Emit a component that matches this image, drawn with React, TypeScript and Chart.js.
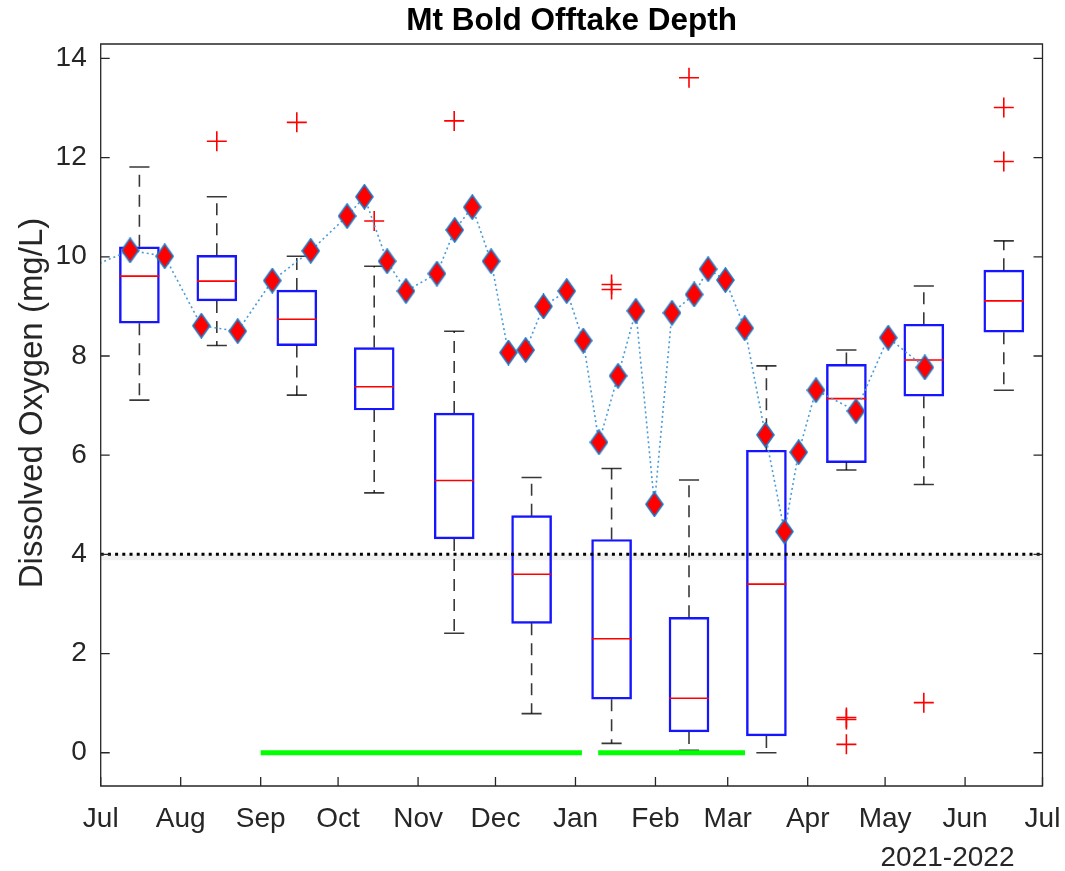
import React, { useEffect, useRef } from 'react';
import { Chart, registerables } from 'chart.js';

Chart.register(...registerables);

// ---- axis ticks ----
const monthTickDays = [0, 31, 62, 92, 123, 153, 184, 215, 243, 274, 304, 335, 365];
const monthLabels = ['Jul', 'Aug', 'Sep', 'Oct', 'Nov', 'Dec', 'Jan', 'Feb', 'Mar', 'Apr', 'May', 'Jun', 'Jul'];
const yTickValues = [0, 2, 4, 6, 8, 10, 12, 14];

// ---- monthly box plots (days since 1 Jul 2021) ----
const boxDays = [15, 45, 76, 106, 137, 167, 198, 228, 258, 289, 319, 350];
const boxQ1 = [8.66, 9.11, 8.21, 6.91, 4.31, 2.61, 1.08, 0.42, 0.34, 5.85, 7.19, 8.48];
const boxMedian = [9.61, 9.51, 8.74, 7.38, 5.49, 3.6, 2.3, 1.1, 3.4, 7.14, 7.92, 9.11];
const boxQ3 = [10.2, 10.03, 9.33, 8.17, 6.85, 4.78, 4.3, 2.73, 6.1, 7.83, 8.64, 9.73];
const whiskerLow = [7.11, 8.21, 7.21, 5.24, 2.41, 0.79, 0.19, 0.05, 0.0, 5.7, 5.41, 7.31];
const whiskerHigh = [11.81, 11.21, 10.01, 9.81, 8.5, 5.55, 5.73, 5.5, 7.8, 8.12, 9.41, 10.32];

// ---- outliers ----
const outlierDays = [45, 76, 106, 137, 198, 198, 228, 289, 289, 289, 319, 350, 350];
const outlierValues = [12.33, 12.71, 10.72, 12.74, 9.44, 9.34, 13.61, 0.71, 0.67, 0.17, 1.01, 13.01, 11.92];

// ---- individual samples (diamonds) ----
const sampleDays = [-4, 11.4, 24.8, 39.0, 53.1, 66.5, 81.4, 95.5, 102.2, 111.0, 118.3, 130.3, 137.2, 144.0, 151.3, 158.0, 164.7, 171.6, 180.6, 187.0, 193.1, 200.5, 207.4, 214.6, 221.4, 230.0, 235.4, 242.1, 249.6, 257.6, 265.0, 270.5, 277.2, 292.7, 305.2, 319.4];
const sampleValues = [9.79, 10.13, 10.01, 8.61, 8.5, 9.52, 10.12, 10.82, 11.21, 9.91, 9.31, 9.66, 10.54, 11.0, 9.91, 8.07, 8.12, 9.0, 9.31, 8.31, 6.26, 7.6, 8.91, 5.01, 8.87, 9.24, 9.75, 9.53, 8.56, 6.41, 4.46, 6.06, 7.31, 6.89, 8.37, 7.77];

// ---- reference lines ----
const thresholdValue = 4;
const greenStartDays = [62, 192.8];
const greenEndDays = [186.5, 249.7];

const X_MIN = 0;
const X_MAX = 365;
const Y_MIN = -0.67;
const Y_MAX = 14.29;

const BOX_HALF_DAYS = 7.7;
const CAP_HALF_DAYS = 3.9;

const FONT = '"Liberation Sans", Arial, Helvetica, sans-serif';
const AXIS_COLOR = '#262626';

function makeDiamond(): HTMLCanvasElement {
  const w = 19;
  const h = 26;
  const c = document.createElement('canvas');
  c.width = w;
  c.height = h;
  const g = c.getContext('2d')!;
  g.beginPath();
  g.moveTo(w / 2, 1);
  g.lineTo(w - 1, h / 2);
  g.lineTo(w / 2, h - 1);
  g.lineTo(1, h / 2);
  g.closePath();
  g.fillStyle = '#ff0000';
  g.fill();
  g.lineWidth = 1.6;
  g.strokeStyle = '#1f78c4';
  g.stroke();
  return c;
}

const framePlugin = {
  id: 'framePlugin',
  afterDraw(chart: any) {
    const { ctx, chartArea: a, scales } = chart;
    const xs = scales.x;
    const ys = scales.y;
    ctx.save();
    ctx.strokeStyle = AXIS_COLOR;
    ctx.lineWidth = 1.3;
    ctx.beginPath();
    ctx.rect(a.left, a.top, a.right - a.left, a.bottom - a.top);
    ctx.stroke();
    ctx.beginPath();
    yTickValues.forEach((v) => {
      const py = ys.getPixelForValue(v);
      ctx.moveTo(a.left, py);
      ctx.lineTo(a.left + 9, py);
      ctx.moveTo(a.right, py);
      ctx.lineTo(a.right - 9, py);
    });
    monthTickDays.forEach((d) => {
      const px = xs.getPixelForValue(d);
      ctx.moveTo(px, a.bottom);
      ctx.lineTo(px, a.bottom - 9);
    });
    ctx.stroke();

    // title
    ctx.fillStyle = '#000';
    ctx.font = `bold 31.5px ${FONT}`;
    ctx.textAlign = 'center';
    ctx.textBaseline = 'alphabetic';
    ctx.fillText('Mt Bold Offtake Depth', (a.left + a.right) / 2, 30);

    // y label
    ctx.fillStyle = AXIS_COLOR;
    ctx.font = `33px ${FONT}`;
    ctx.save();
    ctx.translate(42, (a.top + a.bottom) / 2 - 12);
    ctx.rotate(-Math.PI / 2);
    ctx.fillText('Dissolved Oxygen (mg/L)', 0, 0);
    ctx.restore();

    // year label
    ctx.font = `28px ${FONT}`;
    ctx.fillText('2021-2022', a.right - 95, 866);
    ctx.restore();
  },
};

export default function App() {
  const ref = useRef<HTMLCanvasElement | null>(null);

  useEffect(() => {
    if (!ref.current) return;
    const diamond = makeDiamond();

    const boxData = boxDays.map((d, i) => ({ x: d, y: [boxQ1[i], boxQ3[i]] }));
    const whiskerData: any[] = [];
    const capData: any[] = [];
    const medianData: any[] = [];
    boxDays.forEach((d, i) => {
      whiskerData.push({ x: d, y: boxQ3[i] }, { x: d, y: whiskerHigh[i] }, { x: d, y: null });
      whiskerData.push({ x: d, y: boxQ1[i] }, { x: d, y: whiskerLow[i] }, { x: d, y: null });
      capData.push({ x: d - CAP_HALF_DAYS, y: whiskerHigh[i] }, { x: d + CAP_HALF_DAYS, y: whiskerHigh[i] }, { x: d, y: null });
      capData.push({ x: d - CAP_HALF_DAYS, y: whiskerLow[i] }, { x: d + CAP_HALF_DAYS, y: whiskerLow[i] }, { x: d, y: null });
      medianData.push({ x: d - BOX_HALF_DAYS, y: boxMedian[i] }, { x: d + BOX_HALF_DAYS, y: boxMedian[i] }, { x: d, y: null });
    });
    const outlierData = outlierDays.map((d, i) => ({ x: d, y: outlierValues[i] }));
    const sampleData = sampleDays.map((d, i) => ({ x: d, y: sampleValues[i] }));
    const greenData: any[] = [];
    greenStartDays.forEach((s, i) => {
      greenData.push({ x: s, y: 0 }, { x: greenEndDays[i], y: 0 }, { x: greenEndDays[i] + 1, y: null });
    });
    const thresholdData = [
      { x: X_MIN, y: thresholdValue },
      { x: X_MAX, y: thresholdValue },
    ];
    const shadowData = [
      { x: X_MIN, y: thresholdValue - 0.06 },
      { x: X_MAX, y: thresholdValue - 0.06 },
    ];

    const chart = new Chart(ref.current, {
      type: 'bar',
      data: {
        datasets: [
          {
            type: 'line',
            data: sampleData as any,
            borderColor: '#4a9bd8',
            borderWidth: 1.6,
            borderDash: [2, 3],
            pointStyle: diamond as any,
            pointRadius: 8,
            order: 1,
          } as any,
          {
            type: 'scatter',
            data: outlierData as any,
            pointStyle: 'cross',
            pointRadius: 10,
            borderColor: '#ff0000',
            borderWidth: 1.6,
            order: 3,
          } as any,
          {
            type: 'line',
            data: greenData as any,
            borderColor: '#00ff00',
            borderWidth: 5,
            borderCapStyle: 'butt',
            pointRadius: 0,
            spanGaps: false,
            order: 4,
          } as any,
          {
            type: 'line',
            data: thresholdData as any,
            borderColor: '#000000',
            borderWidth: 3,
            borderDash: [3, 4.2],
            pointRadius: 0,
            order: 5,
          } as any,
          {
            type: 'line',
            data: medianData as any,
            borderColor: '#ff0000',
            borderWidth: 1.6,
            pointRadius: 0,
            spanGaps: false,
            order: 6,
          } as any,
          {
            type: 'line',
            data: capData as any,
            borderColor: 'rgba(0,0,0,0.78)',
            borderWidth: 1.6,
            pointRadius: 0,
            spanGaps: false,
            order: 7,
          } as any,
          {
            type: 'line',
            data: whiskerData as any,
            borderColor: 'rgba(0,0,0,0.78)',
            borderWidth: 1.6,
            borderDash: [12, 8],
            pointRadius: 0,
            spanGaps: false,
            order: 8,
          } as any,
          {
            type: 'bar',
            data: boxData as any,
            backgroundColor: 'rgba(0,0,0,0)',
            borderColor: '#1515ff',
            borderWidth: 1.8,
            borderSkipped: false,
            barThickness: 40,
            order: 9,
          } as any,
          {
            type: 'line',
            data: shadowData as any,
            borderColor: 'rgba(0,0,0,0.06)',
            borderWidth: 6,
            pointRadius: 0,
            order: 10,
          } as any,
        ],
      },
      options: {
        animation: false,
        responsive: false,
        events: [],
        layout: { padding: { left: 0, right: 22.5, top: 44, bottom: 0 } },
        plugins: {
          legend: { display: false },
          tooltip: { enabled: false },
          title: { display: false },
        },
        scales: {
          x: {
            type: 'linear',
            min: X_MIN,
            max: X_MAX,
            offset: false,
            grid: { display: false, drawTicks: false, offset: false },
            border: { display: false },
            afterBuildTicks: (s: any) => {
              s.ticks = monthTickDays.map((v) => ({ value: v }));
            },
            afterFit: (s: any) => {
              s.height = 85;
              s.paddingLeft = 0;
              s.paddingRight = 0;
            },
            ticks: {
              autoSkip: false,
              maxRotation: 0,
              minRotation: 0,
              padding: 16,
              color: AXIS_COLOR,
              font: { family: FONT, size: 28 },
              callback: (_v: any, i: number) => monthLabels[i],
            },
          },
          y: {
            type: 'linear',
            min: Y_MIN,
            max: Y_MAX,
            grid: { display: false, drawTicks: false },
            border: { display: false },
            afterBuildTicks: (s: any) => {
              s.ticks = yTickValues.map((v) => ({ value: v }));
            },
            afterFit: (s: any) => {
              s.width = 100.7;
              s.paddingTop = 0;
              s.paddingBottom = 0;
            },
            ticks: {
              padding: 14,
              color: AXIS_COLOR,
              font: { family: FONT, size: 28 },
              callback: (v: any) => String(v),
            },
          },
        },
      } as any,
      plugins: [framePlugin],
    });

    return () => chart.destroy();
  }, []);

  return (
    <div style={{ position: 'absolute', left: 0, top: 0, width: 1065, height: 871, background: '#fff' }}>
      <canvas ref={ref} width={1065} height={871} style={{ display: 'block' }} />
    </div>
  );
}
